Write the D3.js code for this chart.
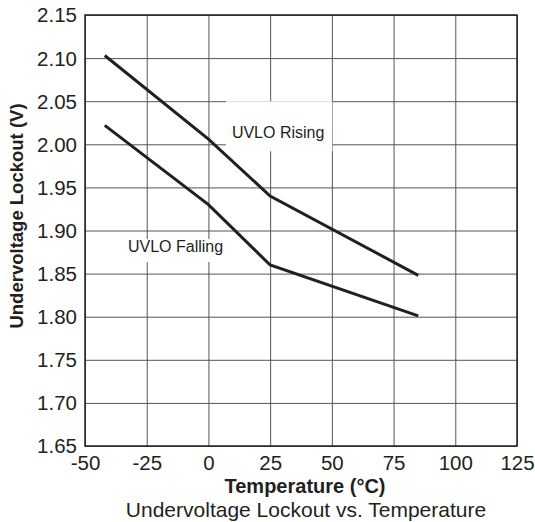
<!DOCTYPE html>
<html lang="en">
<head>
  <meta charset="UTF-8">
  <title>Undervoltage Lockout vs. Temperature</title>
  <script src="https://cdn.jsdelivr.net/npm/d3@7"></script>
  <style>
    body { margin: 0; background: #fff; }
    text { font-family: "Liberation Sans", Arial, sans-serif; fill: #231f20; }
    .tick text { font-size: 20.5px; }
    .grid line { stroke: #555; stroke-width: 1px; }
    .grid path { display: none; }
  </style>
</head>
<body>
<svg id="chart" width="535" height="522"></svg>
<script>
// data
let temps = [-42, 0, 25, 85]
let uvloRising = [2.103, 2.006, 1.940, 1.848]
let uvloFalling = [2.022, 1.930, 1.860, 1.801]
let xTicks = [-50, -25, 0, 25, 50, 75, 100, 125]
let yTicks = [1.65, 1.70, 1.75, 1.80, 1.85, 1.90, 1.95, 2.00, 2.05, 2.10, 2.15]

let margin = {top: 15, right: 18, bottom: 76, left: 85}
let width = 535 - margin.left - margin.right
let height = 522 - margin.top - margin.bottom

let svg = d3.select("#chart")
let body = svg.append("g")
    .attr("transform", "translate(" + margin.left + "," + margin.top + ")")

let x = d3.scaleLinear().domain([-50, 125]).range([0, width])
let y = d3.scaleLinear().domain([1.65, 2.15]).range([height, 0])

// grid
body.append("g").attr("class", "grid")
    .attr("transform", "translate(0," + height + ")")
    .call(d3.axisBottom(x).tickValues(xTicks).tickSize(-height).tickFormat(""))
body.append("g").attr("class", "grid")
    .call(d3.axisLeft(y).tickValues(yTicks).tickSize(-width).tickFormat(""))

// label backgrounds break the grid
let labels = [
    {text: "UVLO Rising", t: 9.5, v: 2.007, pad: [6, 8, 23, 10]},
    {text: "UVLO Falling", t: -32.6, v: 1.875, pad: [6, 4, -1, 7]}
]
let labelG = body.append("g")
labels.forEach(d => {
    let txt = labelG.append("text")
        .attr("x", x(d.t))
        .attr("y", y(d.v))
        .style("font-size", "16px")
        .text(d.text)
    let b = txt.node().getBBox()
    labelG.insert("rect", "text")
        .attr("x", b.x - d.pad[0])
        .attr("y", b.y - d.pad[2])
        .attr("width", b.width + d.pad[0] + d.pad[1])
        .attr("height", b.height + d.pad[2] + d.pad[3])
        .attr("fill", "#fff")
})

// frame
body.append("rect")
    .attr("width", width)
    .attr("height", height)
    .attr("fill", "none")
    .attr("stroke", "#231f20")
    .attr("stroke-width", 1.5)

// curves
let line = d3.line()
    .x(d => x(d[0]))
    .y(d => y(d[1]))

;[uvloRising, uvloFalling].forEach(series => {
    body.append("path")
        .datum(temps.map((t, i) => [t, series[i]]))
        .attr("d", line)
        .attr("fill", "none")
        .attr("stroke", "#231f20")
        .attr("stroke-width", 3)
})

// axes
let xAxis = body.append("g")
    .attr("transform", "translate(0," + height + ")")
    .call(d3.axisBottom(x).tickValues(xTicks).tickSize(0).tickPadding(9).tickFormat(d => String(d)))
xAxis.select(".domain").remove()

let yAxis = body.append("g")
    .call(d3.axisLeft(y).tickValues(yTicks).tickSize(0).tickPadding(8).tickFormat(d3.format(".2f")))
yAxis.select(".domain").remove()
yAxis.selectAll(".tick text").attr("dy", "0.34em")

// titles
svg.append("text")
    .attr("x", margin.left + width / 2 + 4)
    .attr("y", 493)
    .attr("text-anchor", "middle")
    .style("font-size", "20px")
    .style("font-weight", "bold")
    .text("Temperature (°C)")

svg.append("text")
    .attr("transform", "translate(23," + 216 + ") rotate(-90)")
    .attr("text-anchor", "middle")
    .style("font-size", "18.5px")
    .style("font-weight", "bold")
    .text("Undervoltage Lockout (V)")

svg.append("text")
    .attr("x", 306)
    .attr("y", 517)
    .attr("text-anchor", "middle")
    .style("font-size", "21px")
    .text("Undervoltage Lockout vs. Temperature")
</script>
</body>
</html>
